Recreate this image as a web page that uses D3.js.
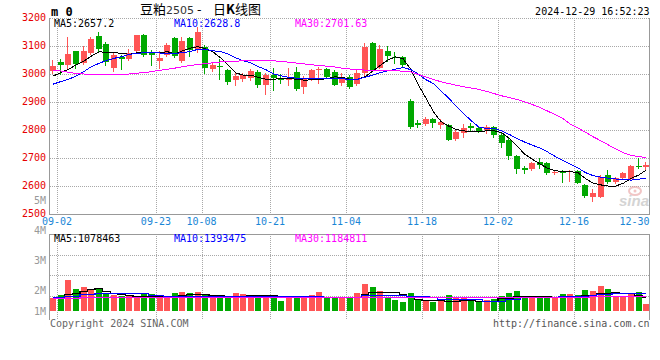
<!DOCTYPE html>
<html>
<head>
<meta charset="utf-8">
<script src="https://cdn.jsdelivr.net/npm/d3@7"></script>
<style>
body{margin:0;background:#fff;}
svg text{font-family:"DejaVu Sans Mono",monospace;font-size:10px;}
</style>
</head>
<body>
<svg id="kline" width="660" height="360"></svg>
<script>
// 豆粕2505 daily candles, 2024-08-30 .. 2024-12-27
const dates = ["08-30",
 "09-02","09-03","09-04","09-05","09-06","09-09","09-10","09-11","09-12","09-13",
 "09-18","09-19","09-20","09-23","09-24","09-25","09-26","09-27","09-30",
 "10-08","10-09","10-10","10-11","10-14","10-15","10-16","10-17","10-18",
 "10-21","10-22","10-23","10-24","10-25","10-28","10-29","10-30","10-31","11-01",
 "11-04","11-05","11-06","11-07","11-08","11-11","11-12","11-13","11-14","11-15",
 "11-18","11-19","11-20","11-21","11-22","11-25","11-26","11-27","11-28","11-29",
 "12-02","12-03","12-04","12-05","12-06","12-09","12-10","12-11","12-12","12-13",
 "12-16","12-17","12-18","12-19","12-20","12-23","12-24","12-25","12-26","12-27"];

const openP = [3012,3043,3031,3082,3040,3075,3136,3108,3021,3061,
 3055,3081,3138,3079,3046,3069,3130,3046,3130,3085,
 3097,3019,3027,3013,2980,2983,2986,3007,2960,2998,
 2984,2978,3007,2952,2981,3013,3017,3007,2969,2991,
 2964,3002,3112,3023,3082,3062,3060,2905,2824,2822,
 2839,2818,2818,2767,2788,2814,2806,2800,2810,2782,
 2764,2707,2663,2661,2685,2681,2648,2651,2649,2654,
 2602,2562,2562,2639,2615,2627,2624,2673,2669];
const highP = [3050,3055,3132,3083,3100,3132,3150,3115,3079,3067,
 3090,3140,3142,3085,3081,3112,3132,3132,3133,3168,
 3105,3043,3052,3019,3007,3005,3018,3014,3005,3021,
 3000,3020,3026,2993,3017,3026,3020,3014,3005,2997,
 3014,3110,3115,3104,3100,3080,3064,2910,2836,2848,
 2842,2838,2821,2800,2821,2824,2810,2818,2814,2788,
 2770,2711,2672,2687,2699,2685,2657,2657,2657,2657,
 2607,2588,2639,2657,2633,2651,2675,2699,2687];
const lowP = [3005,3001,3022,3022,3035,3070,3080,3033,3010,3019,
 3049,3078,3064,3031,3022,3065,3060,3043,3063,3078,
 3005,3010,2981,2965,2960,2975,2978,2955,2930,2942,
 2968,2960,2943,2931,2979,2967,2985,2960,2960,2949,
 2961,2998,3012,3020,3048,3040,3028,2806,2810,2818,
 2810,2806,2764,2764,2776,2800,2794,2788,2776,2738,
 2695,2648,2648,2657,2663,2643,2642,2616,2619,2610,
 2560,2548,2560,2610,2612,2624,2621,2663,2661];
const closeP = [3030,3031,3072,3037,3083,3126,3090,3043,3067,3052,
 3075,3138,3067,3067,3058,3105,3063,3118,3085,3150,
 3021,3031,3024,2971,2993,2995,3011,2960,2998,2985,
 2978,2987,2948,2985,3014,3018,2988,2962,2991,2955,
 3005,3098,3014,3088,3064,3056,3032,2810,2818,2839,
 2824,2830,2764,2794,2806,2806,2797,2810,2783,2755,
 2707,2660,2657,2683,2676,2648,2650,2648,2654,2612,
 2564,2576,2631,2615,2627,2648,2673,2667,2675];

// moving averages
const ma5 = [2993,3005,3017,3032,3046,3064,3079,3078,3076,3074,
 3070,3076,3076,3077,3076,3080,3071,3083,3092,3098,
 3090,3079,3058,3032,3004,2996,2996,2988,2981,2981,
 2985,2985,2981,2978,2979,2981,2983,2990,2988,2981,
 2981,2990,3010,3030,3050,3061,3055,3018,2962,2915,
 2866,2830,2814,2802,2797,2794,2794,2797,2797,2790,
 2770,2743,2714,2696,2679,2664,2655,2651,2651,2648,
 2627,2610,2604,2600,2600,2610,2627,2639,2657.2];
const ma10 = [2964,2973,2981,2993,3008,3026,3038,3048,3056,3062,
 3070,3074,3076,3076,3075,3074,3074,3076,3080,3088,
 3088,3083,3080,3071,3058,3047,3040,3026,3015,3000,
 2993,2988,2985,2983,2983,2983,2983,2985,2983,2981,
 2981,2988,2996,3005,3011,3017,3023,3016,3000,2980,
 2966,2940,2914,2885,2858,2833,2810,2806,2806,2797,
 2784,2770,2757,2746,2736,2722,2706,2692,2678,2665,
 2648,2637,2632,2628,2625,2623,2621,2624,2628.8];
const ma30 = [3011,3011,3006,3002,3000,3000,3000,3000,3000,3000,
 3000,3003,3005,3009,3013,3017,3021,3026,3030,3034,
 3037,3040,3043,3045,3046,3047,3047,3047,3047,3047,
 3045,3042,3039,3036,3033,3030,3028,3025,3021,3018,
 3016,3014,3013,3012,3012,3012,3010,3008,2999,2990,
 2981,2972,2966,2960,2954,2950,2945,2938,2930,2922,
 2916,2909,2901,2891,2881,2868,2855,2842,2821,2808,
 2792,2776,2762,2747,2732,2719,2710,2705,2701.63];

const volume = [1040000,1250000,2420000,1720000,1880000,1640000,1770000,1430000,1250000,1170000,
 1250000,1170000,1300000,1300000,1170000,1170000,1410000,1480000,1410000,1480000,
 1250000,1250000,1200000,1170000,1410000,1330000,1200000,1250000,1250000,1170000,
 780000,1170000,1170000,1170000,1250000,1460000,1120000,1120000,1120000,990000,
 1410000,2110000,1880000,1560000,1040000,860000,730000,1410000,940000,780000,
 730000,840000,1250000,990000,1040000,940000,730000,860000,940000,1200000,
 1410000,1560000,1150000,1090000,1170000,1170000,1120000,1330000,1330000,1250000,
 1640000,1560000,1950000,1720000,1120000,1120000,1300000,1480000,550000];
const volMa5 = [1070000,1120000,1300000,1430000,1560000,1700000,1770000,1590000,1430000,1330000,
 1250000,1170000,1200000,1170000,1170000,1170000,1200000,1250000,1300000,1300000,
 1300000,1270000,1230000,1200000,1200000,1210000,1230000,1250000,1250000,1230000,
 1130000,1110000,1110000,1130000,1150000,1200000,1130000,1120000,1120000,1120000,
 1120000,1330000,1460000,1460000,1460000,1460000,1330000,1120000,940000,860000,
 860000,860000,780000,780000,860000,860000,780000,780000,780000,990000,
 990000,1170000,1170000,1170000,1170000,1170000,1120000,1120000,1170000,1170000,
 1250000,1250000,1430000,1430000,1510000,1430000,1430000,1250000,1078463];
const volMa10 = [1070000,1070000,1170000,1170000,1330000,1330000,1430000,1430000,1430000,1430000,
 1430000,1430000,1430000,1250000,1250000,1170000,1170000,1170000,1170000,1170000,
 1200000,1200000,1170000,1170000,1170000,1170000,1170000,1170000,1170000,1170000,
 1170000,1170000,1170000,1170000,1170000,1170000,1120000,1120000,1120000,1120000,
 1120000,1250000,1250000,1250000,1250000,1250000,1250000,1170000,1170000,1170000,
 1090000,940000,940000,940000,940000,940000,940000,780000,780000,780000,
 940000,940000,1070000,1070000,1070000,1070000,1070000,1170000,1170000,1170000,
 1170000,1250000,1300000,1350000,1390000,1390000,1400000,1420000,1393475];
const volMa30 = [1040000,1040000,1040000,1040000,1120000,1120000,1120000,1120000,1120000,1120000,
 1120000,1120000,1120000,1120000,1120000,1120000,1120000,1120000,1120000,1120000,
 1120000,1120000,1120000,1120000,1120000,1120000,1120000,1120000,1120000,1120000,
 1120000,1120000,1120000,1120000,1120000,1120000,1120000,1120000,1120000,1120000,
 1120000,1120000,1120000,1120000,1120000,1120000,1120000,1120000,1120000,1120000,
 1120000,1120000,1120000,1120000,1120000,1120000,1120000,1120000,1120000,1120000,
 1120000,1120000,1070000,1070000,1070000,1070000,1070000,1070000,1070000,1120000,
 1130000,1140000,1150000,1160000,1170000,1170000,1180000,1180000,1184811];

const priceTicks = [3200,3100,3000,2900,2800,2700,2600,2500];
const volTicks = [5e6,4e6,3e6,2e6,1e6];
const volTickLabels = ["5M","4M","3M","2M","1M"];
const dateTicks = ["09-02","09-23","10-08","10-21","11-04","11-18","12-02","12-16","12-30"];
const priceLegend = ["MA5:2657.2","MA10:2628.8","MA30:2701.63"];
const volLegend = ["MA5:1078463","MA10:1393475","MA30:1184811"];
const maColors = ["#000000","#0000ff","#ff00ff"];

const RED = "#ff5555", GREEN = "#00a800";
const plotL = 49.5, plotR = 649.5;
const mainTop = 18, mainBot = 214;
const volTop = 234, volBot = 316.5, volBase = 311;

const svg = d3.select("#kline");

let x = d3.scaleBand().domain(dates).range([plotL, plotR + 0.5])
    .paddingInner(0.2).paddingOuter(0.1);
let slot = d => x(d) - x.step() * 0.1;          // left edge of a day's slot
let cx = i => x(dates[i]) + x.bandwidth() / 2;

let y = d3.scaleLinear().domain([2500, 3200]).range([mainBot, mainTop]);
let vy = d3.scaleLinear().domain([0, 6e6]).range([volBase, 234.2]);
// sina puts the volume labels on their own spacing, clamped at the bars' base
let vLabel = d3.scaleLinear().domain([0, 5e6]).range([350, 200]);

let grid = svg.append("g").attr("stroke", "#a8a8a8").attr("stroke-dasharray", "1,1")
    .attr("shape-rendering", "crispEdges");

// horizontal grid, price panel
grid.selectAll("line.h").data(priceTicks.slice(0, -1)).enter().append("line")
    .attr("x1", plotL).attr("x2", plotR)
    .attr("y1", d => Math.round(y(d)) + 0.5).attr("y2", d => Math.round(y(d)) + 0.5);

// horizontal grid, volume panel (4 equal parts)
grid.selectAll("line.v").data([1, 2, 3]).enter().append("line")
    .attr("x1", plotL).attr("x2", plotR)
    .attr("y1", k => Math.round(volTop + (volBot - volTop) * k / 4) + 0.5)
    .attr("y2", k => Math.round(volTop + (volBot - volTop) * k / 4) + 0.5);

// vertical grid at the date ticks
let gridDates = dateTicks.filter(d => dates.indexOf(d) >= 0);
gridDates.forEach(function(d) {
    let gx = Math.round(slot(d)) + 0.5;
    grid.append("line").attr("x1", gx).attr("x2", gx).attr("y1", mainTop).attr("y2", mainBot);
    grid.append("line").attr("x1", gx).attr("x2", gx).attr("y1", volTop).attr("y2", volBot + 3);
});

// frame
let frame = svg.append("g").attr("stroke", "#999").attr("shape-rendering", "crispEdges");
frame.append("line").attr("x1", plotL).attr("x2", plotL).attr("y1", mainTop).attr("y2", mainBot + 0.5);
frame.append("line").attr("x1", plotL).attr("x2", plotR).attr("y1", mainBot + 0.5).attr("y2", mainBot + 0.5);
frame.append("line").attr("x1", plotR).attr("x2", plotR).attr("y1", mainTop).attr("y2", mainBot + 0.5);
frame.append("line").attr("x1", plotL).attr("x2", plotR).attr("y1", volTop + 0.5).attr("y2", volTop + 0.5);
frame.append("line").attr("x1", plotL).attr("x2", plotL).attr("y1", volTop).attr("y2", volBot + 3);
frame.append("line").attr("x1", plotR).attr("x2", plotR).attr("y1", volTop).attr("y2", volBot + 3);

// candles
let candles = svg.append("g").attr("shape-rendering", "crispEdges");
dates.forEach(function(d, i) {
    let o = openP[i], c = closeP[i];
    let col = c >= o ? RED : GREEN;
    let bx = Math.round(x(d));
    let top = Math.round(y(Math.max(o, c)));
    let bot = Math.round(y(Math.min(o, c)));
    candles.append("line")
        .attr("x1", bx + 2.5).attr("x2", bx + 2.5)
        .attr("y1", Math.round(y(highP[i]))).attr("y2", Math.round(y(lowP[i])) + 1)
        .attr("stroke", col);
    candles.append("rect")
        .attr("x", bx).attr("y", top)
        .attr("width", Math.round(x.bandwidth()))
        .attr("height", Math.max(1, bot - top))
        .attr("fill", col);
});

// price moving averages
let maLine = d3.line().x((d, i) => cx(i)).y(d => y(d));
[ma5, ma10, ma30].forEach(function(s, k) {
    svg.append("path").datum(s).attr("d", maLine)
        .attr("fill", "none").attr("stroke", maColors[k]).attr("stroke-width", 1)
        .attr("shape-rendering", "crispEdges");
});

// volume bars
let vbars = svg.append("g").attr("shape-rendering", "crispEdges");
vbars.selectAll("rect").data(volume).enter().append("rect")
    .attr("x", (v, i) => Math.round(x(dates[i])))
    .attr("y", v => Math.round(vy(v)))
    .attr("width", Math.round(x.bandwidth()))
    .attr("height", v => volBase - Math.round(vy(v)))
    .attr("fill", (v, i) => closeP[i] >= openP[i] ? RED : GREEN);

let volLine = d3.line().curve(d3.curveStep).x((d, i) => cx(i)).y(d => Math.round(vy(d)) + 0.5);
[volMa5, volMa10, volMa30].forEach(function(s, k) {
    svg.append("path").datum(s).attr("d", volLine)
        .attr("fill", "none").attr("stroke", maColors[k]).attr("stroke-width", 1.3)
        .attr("shape-rendering", "crispEdges");
});

// price axis labels
svg.append("g").selectAll("text").data(priceTicks).enter().append("text")
    .attr("x", 46).attr("y", d => y(d) + 2.5)
    .attr("text-anchor", "end").attr("fill", "#e60000")
    .text(d => d);

// volume axis labels
svg.append("g").selectAll("text").data(volTicks).enter().append("text")
    .attr("x", 46).attr("y", v => Math.min(vLabel(v), volBase) + 3.5)
    .attr("text-anchor", "end").attr("fill", "#999")
    .text((v, i) => volTickLabels[i]);

// date labels
svg.append("g").selectAll("text").data(dateTicks).enter().append("text")
    .attr("x", d => dates.indexOf(d) >= 0 ? slot(d) : plotR)
    .attr("y", 225)
    .attr("text-anchor", d => dates.indexOf(d) >= 0 ? "middle" : "end")
    .attr("fill", "#1a86d6")
    .text(d => d);

// legends
let legX = [54, 174, 295];
svg.append("g").selectAll("text").data(priceLegend).enter().append("text")
    .attr("x", (d, i) => legX[i]).attr("y", 27)
    .attr("fill", (d, i) => maColors[i]).text(d => d);
svg.append("g").selectAll("text").data(volLegend).enter().append("text")
    .attr("x", (d, i) => legX[i]).attr("y", 242)
    .attr("fill", (d, i) => maColors[i]).text(d => d);

// header
svg.append("text").attr("x", 51).attr("y", 16)
    .style("font-size", "12px").style("font-weight", "bold").text("m 0");
let title = svg.append("text").attr("x", 140).attr("y", 14)
    .style("font-family", "'Noto Sans CJK SC', sans-serif").style("font-size", "13px").attr("fill", "#000");
title.append("tspan").text("豆粕");
title.append("tspan").attr("fill", "#333").style("font-family", "'DejaVu Sans', sans-serif").style("font-size", "11px").text("2505");
title.append("tspan").attr("x", 197).text("-");
title.append("tspan").attr("x", 213).text("日");
title.append("tspan").style("font-weight", "bold").text("K");
title.append("tspan").text("线图");

svg.append("text").attr("x", plotR).attr("y", 15).attr("text-anchor", "end")
    .text("2024-12-29 16:52:23");

// footer
svg.append("text").attr("x", 50).attr("y", 327).attr("fill", "#666").text("Copyright 2024 SINA.COM");
svg.append("text").attr("x", plotR).attr("y", 327).attr("text-anchor", "end")
    .attr("fill", "#555").text("http://finance.sina.com.cn");

// sina watermark
let logo = svg.append("g").attr("opacity", 0.6);
logo.append("ellipse").attr("cx", 635).attr("cy", 191).attr("rx", 6).attr("ry", 4)
    .attr("fill", "none").attr("stroke", "#e8a0a0").attr("stroke-width", 2);
logo.append("circle").attr("cx", 635).attr("cy", 191).attr("r", 1.5).attr("fill", "#e8a0a0");
logo.append("text").attr("x", 619).attr("y", 206)
    .style("font-family", "'Liberation Sans', sans-serif").style("font-size", "15px")
    .style("font-style", "italic").style("font-weight", "bold")
    .attr("fill", "#b8b8b8").text("sina");
</script>
</body>
</html>
